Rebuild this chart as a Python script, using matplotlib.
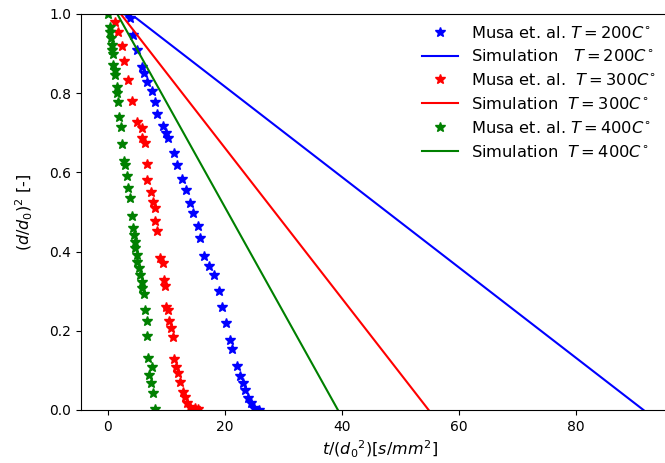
import matplotlib
matplotlib.use("Agg")
import matplotlib.pyplot as plt

# Measured droplet regression (Musa et al.), (d/d0)^2 against t/d0^2
musa_200_t = [3.75, 4.3, 4.9, 5.75, 6.15, 6.7, 7.6, 8.0, 8.4, 9.4, 10.0, 10.3,
              11.25, 11.8, 12.7, 13.4, 14.1, 14.5, 15.4, 15.8, 16.5, 17.3, 18.05,
              19.0, 19.5, 20.2, 20.8, 21.2, 22.0, 22.5, 23.0, 23.5, 23.9, 24.5,
              25.0, 25.9]
musa_200_d2 = [0.989, 0.947, 0.909, 0.867, 0.85, 0.829, 0.806, 0.777, 0.747, 0.718,
               0.699, 0.686, 0.648, 0.619, 0.583, 0.556, 0.523, 0.497, 0.465, 0.434,
               0.389, 0.364, 0.341, 0.30, 0.261, 0.219, 0.177, 0.154, 0.112, 0.087,
               0.067, 0.05, 0.03, 0.017, 0.006, 0.0]

musa_300_t = [1.3, 1.75, 2.35, 2.7, 3.45, 4.1, 4.9, 5.9, 5.75, 6.3, 6.6, 6.7, 7.45,
              7.7, 8.0, 8.1, 8.4, 8.85, 9.4, 9.6, 9.7, 9.85, 10.3, 10.4, 10.75, 11.1,
              11.3, 11.6, 12.0, 12.4, 12.8, 13.1, 13.6, 14.0, 14.8, 15.4]
musa_300_d2 = [0.98, 0.955, 0.92, 0.882, 0.833, 0.78, 0.728, 0.711, 0.686, 0.673,
               0.62, 0.581, 0.551, 0.526, 0.509, 0.476, 0.453, 0.385, 0.37, 0.328,
               0.314, 0.261, 0.253, 0.225, 0.206, 0.185, 0.128, 0.109, 0.093, 0.071,
               0.046, 0.034, 0.018, 0.008, 0.004, 0.002]

musa_400_t = [0.0, 0.35, 0.35, 0.5, 0.65, 0.65, 0.85, 0.85, 1.2, 1.2, 1.5, 1.5, 1.7,
              1.9, 2.2, 2.45, 2.8, 3.0, 3.25, 3.45, 3.7, 4.05, 4.3, 4.5, 4.6, 4.7,
              4.9, 5.05, 5.3, 5.45, 5.75, 5.9, 6.1, 6.3, 6.6, 6.75, 6.85, 7.55, 7.0,
              7.45, 7.7, 8.0]
musa_400_d2 = [1.0, 0.968, 0.955, 0.94, 0.922, 0.909, 0.90, 0.87, 0.859, 0.846,
               0.816, 0.80, 0.778, 0.74, 0.714, 0.672, 0.63, 0.619, 0.591, 0.56,
               0.535, 0.49, 0.459, 0.442, 0.425, 0.408, 0.391, 0.374, 0.358, 0.341,
               0.324, 0.307, 0.292, 0.253, 0.225, 0.187, 0.131, 0.109, 0.088, 0.067,
               0.044, 0.002]

# Simulated d^2-law curves
sim_200_t = [2.6, 4.8, 91.5]
sim_200_d2 = [1.0, 0.99, 0.0]
sim_300_t = [2.2, 54.8]
sim_300_d2 = [1.0, 0.0]
sim_400_t = [1.6, 39.3]
sim_400_d2 = [1.0, 0.0]

fig = plt.figure(figsize=(6.65, 4.63), dpi=100)
# right edge of the axes runs past the canvas, so no right spine shows
ax = fig.add_axes([0.1213, 0.1145, 0.90, 0.8553])

ms = 7.5
ax.plot(musa_200_t, musa_200_d2, "b*", ms=ms, label=r"Musa et. al. $T = 200C^{\circ}$")
ax.plot(sim_200_t, sim_200_d2, "b-", label=r"Simulation   $T = 200C^{\circ}$")
ax.plot(musa_300_t, musa_300_d2, "r*", ms=ms, label=r"Musa et. al.  $T = 300C^{\circ}$")
ax.plot(sim_300_t, sim_300_d2, "r-", label=r"Simulation  $T = 300C^{\circ}$")
ax.plot(musa_400_t, musa_400_d2, "g*", ms=ms, label=r"Musa et. al. $T = 400C^{\circ}$")
ax.plot(sim_400_t, sim_400_d2, "g-", label=r"Simulation  $T = 400C^{\circ}$")

ax.set_xlim(-4.65, 97.6)
ax.set_ylim(0, 1.0)
ax.set_xlabel(r"$t/({d_0}^2) [s/mm^2]$", fontsize=11.5)
ax.set_ylabel(r"$(d/d_0)^2$ [-]", fontsize=11.5, labelpad=10)
ax.legend(loc="upper right", frameon=False, numpoints=1, fontsize=11.7,
          labelspacing=0.48, borderaxespad=0, handlelength=2.2,
          bbox_to_anchor=(0.996, 0.961), bbox_transform=fig.transFigure)

fig.savefig("out.png", dpi=100)
